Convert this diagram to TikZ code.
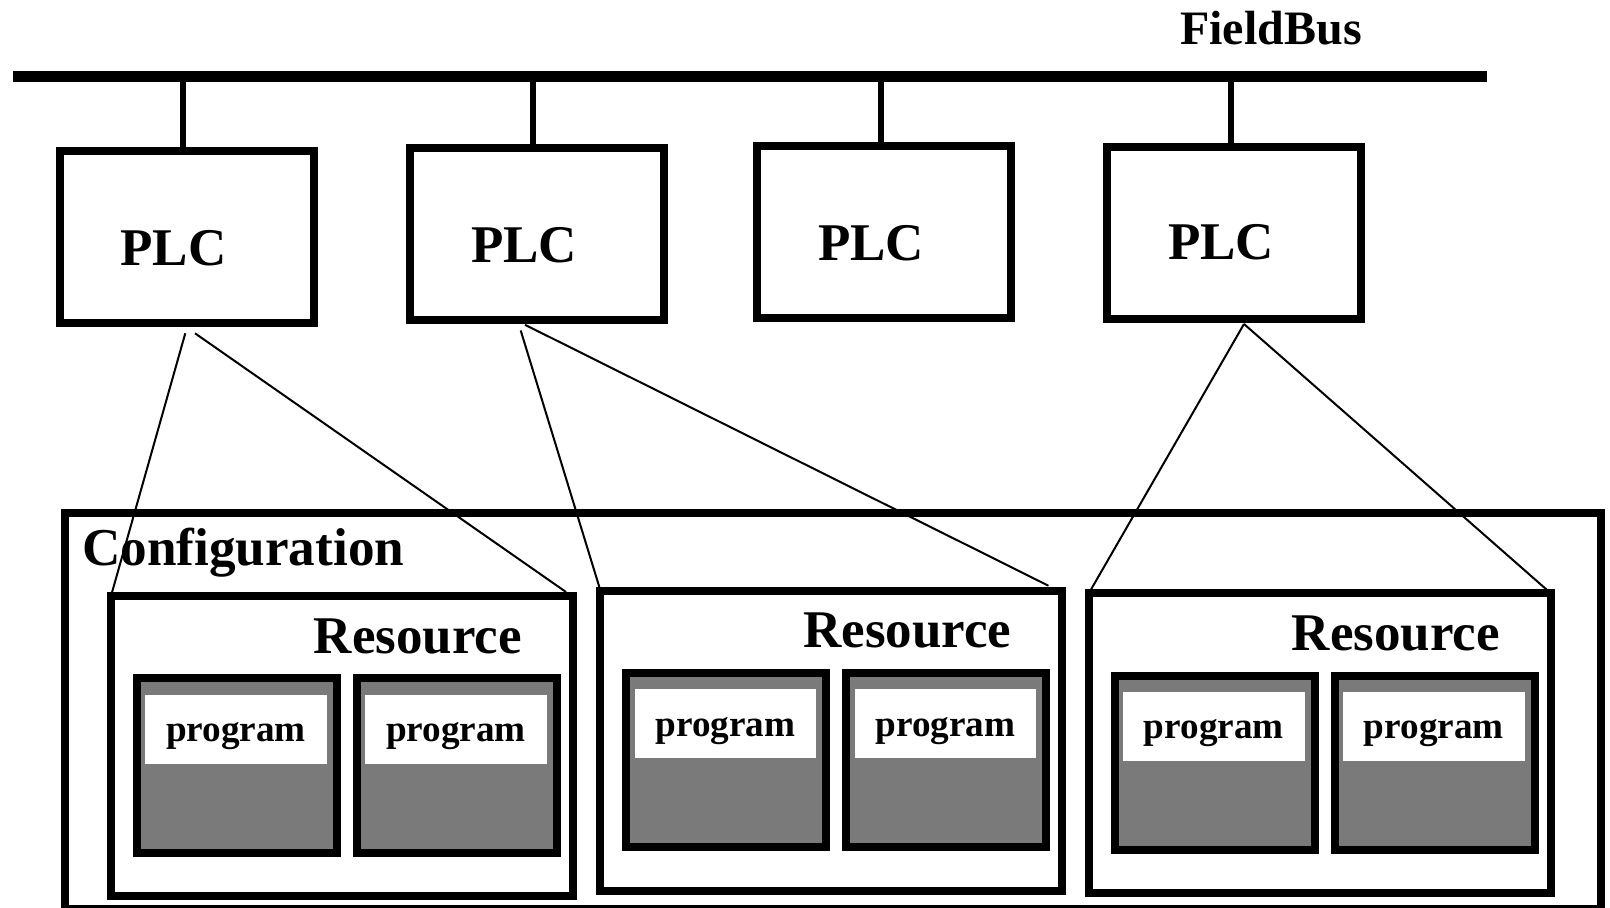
\documentclass[tikz,border=0pt]{standalone}
\usepackage{fontspec}
\setmainfont{Liberation Serif}
\usetikzlibrary{calc}
\newcommand\resgroup[2]{%
  \node[resbox] (#1) at (#2) {};
  \node[restxt] (#1t) at ($(#1)+(76,-93)$) {Resource};
  \node[progbox] (#1a) at ($(#1)+(-105,19.5)$) {};
  \node[progbox] (#1b) at ($(#1)+(115,19.5)$) {};
  \node[progwin] (#1aw) at ($(#1a)+(-1,-36.5)$) {};
  \node[progwin] (#1bw) at ($(#1b)+(-1,-36.5)$) {};
  \node[progtxt] (#1at) at ($(#1aw)+(0,12.5)$) {program};
  \node[progtxt] (#1bt) at ($(#1bw)+(0,12.5)$) {program};
}
\begin{document}
\begin{tikzpicture}[x=0.5pt,y=-0.5pt,
  thickbox/.style={draw, line width=4pt, inner sep=0pt, outer sep=0pt},
  plcbox/.style={thickbox, minimum width=127pt, minimum height=86pt},
  resbox/.style={thickbox, fill=white, minimum width=231pt, minimum height=150pt},
  confbox/.style={thickbox, minimum width=768pt, minimum height=198pt},
  progbox/.style={thickbox, fill=black!52, minimum width=100pt, minimum height=87.2pt},
  progwin/.style={fill=white, inner sep=0pt, outer sep=0pt, minimum width=90.75pt, minimum height=34.5pt},
  basetxt/.style={inner sep=0pt, outer sep=0pt, anchor=base},
  bustxt/.style={basetxt, font=\bfseries\fontsize{24pt}{28pt}\selectfont},
  plctxt/.style={basetxt, font=\bfseries\fontsize{26.5pt}{30pt}\selectfont},
  restxt/.style={basetxt, font=\bfseries\fontsize{26.5pt}{30pt}\selectfont},
  conftxt/.style={basetxt, anchor=base west, font=\bfseries\fontsize{26.6pt}{31pt}\selectfont},
  progtxt/.style={basetxt, font=\bfseries\fontsize{18.6pt}{22pt}\selectfont},
  busline/.style={line width=5.65pt},
  stubline/.style={line width=2.75pt},
  link/.style={line width=1pt}
]
\useasboundingbox (0,0) rectangle (1610,908);
\fill[white] (0,0) rectangle (1610,908);

% field bus
\coordinate (busL) at (13,76.3);
\coordinate (busR) at (1486.7,76.3);
\draw[busline] (busL) -- (busR);
\node[bustxt] (fb) at (1271,44.3) {FieldBus};

% PLCs
\node[plcbox] (plc1) at (186.5,237) {};
\node[plcbox] (plc2) at (536.7,234.5) {};
\node[plcbox] (plc3) at (884.3,232.5) {};
\node[plcbox] (plc4) at (1234.3,232.7) {};
\node[plctxt] (plc1t) at (173.3,265.7) {PLC};
\node[plctxt] (plc2t) at (524,262.7) {PLC};
\node[plctxt] (plc3t) at (871,260.7) {PLC};
\node[plctxt] (plc4t) at (1221,260) {PLC};

\foreach \n in {1,2,3,4}{
  \coordinate (s\n) at ([xshift=-1.75pt]plc\n.north);
  \draw[stubline] (s\n) -- (s\n |- busL);
}

% configuration
\node[confbox] (conf) at (833,711) {};
\node[conftxt] (conft) at (82,565) {Configuration};

% resources
\resgroup{r1}{342,746}
\resgroup{r2}{831.4,740.5}
\resgroup{r3}{1319.8,743.3}

% links
\coordinate (a1) at ($(plc1.south)+(-1.2,10.3)$);
\coordinate (b1) at ($(plc1.south)+(8.5,10.3)$);
\coordinate (a2) at ($(plc2.south)+(-16,10)$);
\coordinate (b2) at ($(plc2.south)+(-11.7,4.3)$);
\coordinate (a4) at ($(plc4.south)+(9.7,5.3)$);
\coordinate (e1) at ($(r1.north east)+(-7,-4)$);
\coordinate (e2) at ($(r2.north east)+(-14,-4.8)$);
\draw[link] (a1) -- (r1.north west);
\draw[link] (b1) -- (e1);
\draw[link] (a2) -- (r2.north west);
\draw[link] (b2) -- (e2);
\draw[link] (a4) -- (r3.north west);
\draw[link] (a4) -- (r3.north east);
\end{tikzpicture}
\end{document}
